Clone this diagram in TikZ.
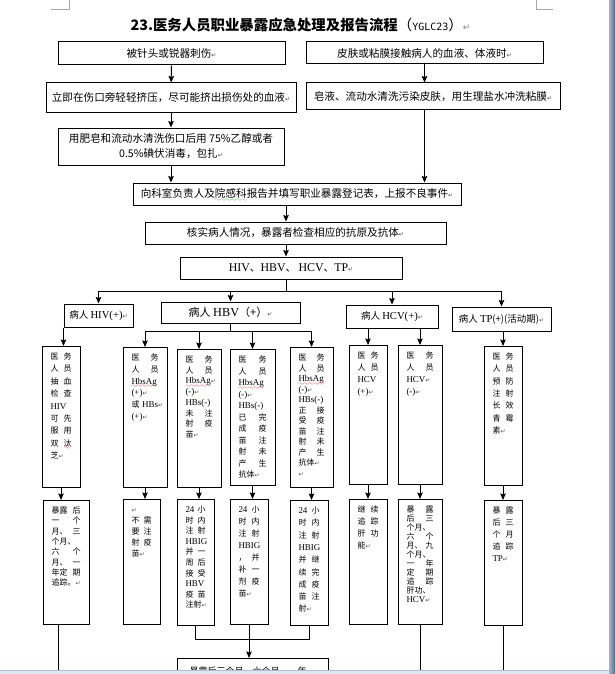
\documentclass[tikz,border=0pt]{standalone}
\usepackage{fontspec}
\setmainfont{Noto Sans CJK SC}
\newfontfamily\tnr[Scale=1.12]{Liberation Serif}
\newfontfamily\dvs{DejaVu Sans}
\newfontfamily\ttl{DejaVu Sans Mono}
\usetikzlibrary{arrows.meta}
\newcommand\en[1]{{\tnr #1}}
\newcommand\pmk{{\dvs\fontsize{6}{6}\selectfont\textcolor{black!70}{↵}}}
\font\wavefont=lasy6
\newsavebox\wavebox
\newcommand\wavy[2]{\leavevmode\sbox\wavebox{#2}\rlap{\smash{\textcolor{#1}{\lower3.5pt\hbox to \wd\wavebox{\xleaders\hbox{\wavefont\char58}\hfil}}}}\usebox\wavebox}
\newcommand\redwave[1]{\wavy{red}{#1}}
\newcommand\greenwave[1]{\wavy{green!60!black}{#1}}
\definecolor{barlite}{RGB}{170,181,200}
\definecolor{bardark}{RGB}{86,105,140}
\definecolor{stripfill}{RGB}{221,229,240}
\definecolor{stripline}{RGB}{176,192,214}

\begin{document}
\begin{tikzpicture}[x=1pt, y=-1pt, line width=1pt, >={Stealth[length=6.5pt,width=5.5pt,inset=1pt]},
  box/.style={draw, inner sep=0pt, align=center, font=\fontsize{10.6}{15}\selectfont},
  tag/.style={draw, inner sep=0pt, align=center, font=\fontsize{9.5}{12}\selectfont},
  colbox/.style n args={3}{draw, anchor=north, inner xsep=8.5pt, inner ysep=0pt, align=left,
    text width=#1pt, text height=13pt, text depth=#2pt, font=\fontsize{8}{#3}\selectfont}]
  \useasboundingbox (0,0) rectangle (615,674);

  \node[anchor=west, inner sep=0pt, font=\fontsize{14.4}{16}\selectfont] (title) at (130,25)
    {\bfseries 23.医务人员职业暴露应急处理及报告流程\mdseries （{\ttl\fontsize{10}{12}\selectfont YGLC23}）{\dvs\fontsize{9}{9}\selectfont\textcolor{gray}{↵}}};

  \node[box, minimum width=227pt, minimum height=23pt] (needle) at (171.5,53.5) {被针头或锐器刺伤\pmk};
  \node[box, minimum width=237pt, minimum height=22pt] (skin) at (424.5,53) {皮肤或粘膜接触病人的血液、体液时\pmk};
  \node[box, minimum width=250pt, minimum height=30pt] (squeeze) at (171,98) {立即在伤口旁轻轻挤压，尽可能挤出损伤处的血液\pmk};
  \node[box, minimum width=254pt, minimum height=27pt] (wash) at (433,96.5) {皂液、流动水清洗污染皮肤，用生理盐水冲洗粘膜\pmk};
  \node[box, minimum width=226pt, minimum height=37pt] (disinfect) at (171,146.5) {用肥皂和流动水清洗伤口后用 75\%乙醇或者\\0.5\%碘伏消毒，包扎\pmk};
  \node[box, minimum width=328pt, minimum height=22pt] (report) at (297,194) {向科室负责人及\greenwave{院感科}报告并填写职业暴露登记表，上报不良事件\pmk};
  \node[box, minimum width=301pt, minimum height=22pt] (check) at (295.5,233) {核实病人情况，暴露者检查相应的抗原及抗体\pmk};
  \node[box, minimum width=222pt, minimum height=22pt] (tests) at (291,268) {\en{HIV}、\en{HBV}、 \en{HCV}、\en{TP}\pmk};

  \node[tag, minimum width=69pt, minimum height=23pt] (hiv) at (98.5,315.5) {病人 \en{HIV(+)}\pmk};
  \node[tag, minimum width=139pt, minimum height=21pt, font=\fontsize{11}{13}\selectfont] (hbv) at (230.5,312.5) {病人 \en{HBV}（+）\pmk};
  \node[tag, minimum width=92pt, minimum height=23pt] (hcv) at (392,316.5) {病人 \en{HCV(+)}\pmk};
  \node[tag, minimum width=99pt, minimum height=24pt] (tp) at (501.5,319) {病人 \en{TP}(+)(活动期)\pmk};

  \node[colbox={21}{128}{12.4}] (hivone) at (61,346) {医\hfill 务\\人\hfill 员\\抽\hfill 血\\检\hfill 查\\\en{HIV}\\可\hfill 先\\服\hfill 用\\双\hfill \redwave{汰}\\芝\pmk};
  \node[colbox={27}{127}{11.8}] (hbvone) at (145,347) {医\hfill 务\\人\hfill 员\\\redwave{\en{HbsAg}}\\\en{(+)}\pmk\\或~\en{HBs}\pmk\\\en{(+)}\pmk};
  \node[colbox={27}{125}{10.7}] (hbvtwo) at (199,349) {医\hfill 务\\人\hfill 员\\\redwave{\en{HbsAg}}\pmk\\\en{(-)}\pmk\\\en{HBs(-)}\\未\hfill 注\\射\hfill 疫\\苗\pmk};
  \node[colbox={28}{123}{11.5}] (hbvthree) at (252.5,349) {医\hfill 务\\人\hfill 员\\\redwave{\en{HbsAg}}\\\en{(-)}\pmk\\\en{HBs(-)}\\已\hfill 完\\成\hfill 疫\\苗\hfill 注\\射\hfill 未\\产\hfill 生\\抗体\pmk};
  \node[colbox={26}{127}{10.5}] (hbvfour) at (311.5,347) {医\hfill 务\\人\hfill 员\\\redwave{\en{HbsAg}}\\\en{(-)}\pmk\\\en{HBs(-)}\\正\hfill 接\\受\hfill 疫\\苗\hfill 注\\射\hfill 未\\产\hfill 生\\抗体\pmk\\\pmk};
  \node[colbox={21}{126}{12}] (hcvone) at (368,345) {医\hfill 务\\人\hfill 员\\\en{HCV}\\\en{(+)}\pmk};
  \node[colbox={27}{126}{12}] (hcvtwo) at (420,345) {医\hfill 务\\人\hfill 员\\\en{HCV}\pmk\\\en{(-)}\pmk};
  \node[colbox={21}{126}{12.3}] (tpone) at (503,346) {医\hfill 务\\人\hfill 员\\预\hfill 防\\注\hfill 射\\长\hfill 效\\青\hfill 霉\\素\pmk};

  \node[colbox={29}{111}{10.3}] (hivtwo) at (66,500) {暴露\hfill 后\\一\hfill 个\\月、\hfill 三\\个月、\\六\hfill 个\\月、\hfill 一\\年定\hfill 期\\追踪。\pmk};
  \node[colbox={20}{112}{11}] (hbvfive) at (141.5,499) {\pmk\\不\hfill 需\\要\hfill 注\\射\hfill 疫\\苗\pmk};
  \node[colbox={20}{113}{10.6}] (hbvsix) at (195.5,499) {\en{24}\hfill 小\\时\hfill 内\\注\hfill 射\\\en{HBIG}\\并\hfill 一\\周\hfill 后\\接\hfill 受\\\en{HBV}\\疫\hfill 苗\\注射\pmk};
  \node[colbox={21}{112}{12}] (hbvseven) at (249,499) {\en{24}\hfill 小\\时\hfill 内\\注\hfill 射\\\en{HBIG}\\，\hfill 并\\补\hfill 一\\剂\hfill 疫\\苗\pmk};
  \node[colbox={21}{112}{12.3}] (hbveight) at (309,500) {\en{24}\hfill 小\\时\hfill 内\\注\hfill 射\\\en{HBIG}\\并\hfill 继\\续\hfill 完\\成\hfill 疫\\苗\hfill 注\\射\pmk};
  \node[colbox={21}{112}{12}] (hcvthree) at (368,499) {继\hfill 续\\追\hfill 踪\\肝\hfill 功\\能\pmk};
  \node[colbox={27}{112}{9}] (hcvfour) at (420,499) {暴\hfill 露\\后\hfill 三\\个月、\\六\hfill 个\\月、\hfill 九\\个月、\\一\hfill 年\\定\hfill 期\\追\hfill 踪\\肝功、\\\en{HCV}\pmk};
  \node[colbox={21}{112}{12}] (tptwo) at (503,500) {暴\hfill 露\\后\hfill 三\\个\hfill 月\\追\hfill 踪\\\en{TP}\pmk};

  \node[box, anchor=north, minimum width=151pt, text height=16pt, text depth=10pt, font=\fontsize{9}{11}\selectfont] (followup) at (252.5,658) {暴露后三个月、六个月、一年，};

  \coordinate (xmid) at (286,0);
  \coordinate (bus) at (0,291);
  \coordinate (hbvbus) at (0,331);
  \coordinate (hbvjoin) at (0,639);
  \coordinate (hivdrop) at (58,690);
  \coordinate (pagebot) at (0,690);

  \path[->]
    (needle) edge (squeeze)
    (squeeze) edge (disinfect)
    (skin.south) edge (skin.south |- wash.north)
    (disinfect.south) edge (disinfect.south |- report.north)
    (wash.south -| skin.south) edge (skin.south |- report.north)
    (report.south -| xmid) edge (check.north -| xmid)
    (check.south -| xmid) edge (tests.north -| xmid);

  \draw (tests.south -| xmid) -- (xmid |- bus);
  \draw (hiv.north |- bus) -- (tp.north |- bus);
  \draw (hbv.south) -- (hbv.south |- hbvbus);
  \draw (hbvone.north |- hbvbus) -- (hbvfour.north |- hbvbus);
  \path[->]
    (hiv.north |- bus) edge (hiv.north)
    (hbv.north |- bus) edge (hbv.north)
    (hcv.north |- bus) edge (hcv.north)
    (tp.north |- bus) edge (tp.north)
    (hiv.south west) edge (hiv.south west |- hivone.north)
    (hbvone.north |- hbvbus) edge (hbvone.north)
    (hbvtwo.north |- hbvbus) edge (hbvtwo.north)
    (hbvthree.north |- hbvbus) edge (hbvthree.north)
    (hbvfour.north |- hbvbus) edge (hbvfour.north)
    (hcv.south -| hcvone.north) edge (hcvone.north)
    (hcv.south -| hcvtwo.north) edge (hcvtwo.north)
    (tp.south -| tpone.north) edge (tpone.north);

  \path[->]
    (hivone.south) edge (hivone.south |- hivtwo.north)
    (hbvone.south) edge (hbvone.south |- hbvfive.north)
    (hbvtwo.south) edge (hbvtwo.south |- hbvsix.north)
    (hbvthree.south) edge (hbvthree.south |- hbvseven.north)
    (hbvfour.south) edge (hbvfour.south |- hbveight.north)
    (hcvone.south) edge (hcvone.south |- hcvthree.north)
    (hcvtwo.south) edge (hcvtwo.south |- hcvfour.north)
    (tpone.south) edge (tpone.south |- tptwo.north)
    (hbvseven.south) edge (hbvseven.south |- followup.north);

  \draw (hivtwo.south -| hivdrop) -- (hivdrop);
  \draw (hbvsix.south) -- (hbvsix.south |- hbvjoin) -- (hbveight.south |- hbvjoin) -- (hbveight.south);
  \draw (hcvfour.south) -- (hcvfour.south |- pagebot);
  \draw (tptwo.south) -- (tptwo.south |- pagebot);

  \draw[gray!70] (69,0) -- (69,10) -- (51,10);
  \draw[gray!70] (536,0) -- (536,10) -- (553,10);
  \fill[stripfill] (0,670) rectangle (615,674);
  \draw[stripline] (0,670.5) -- (615,670.5);
  \shade[left color=barlite, right color=bardark] (609,0) rectangle (615,674);
\end{tikzpicture}
\end{document}
